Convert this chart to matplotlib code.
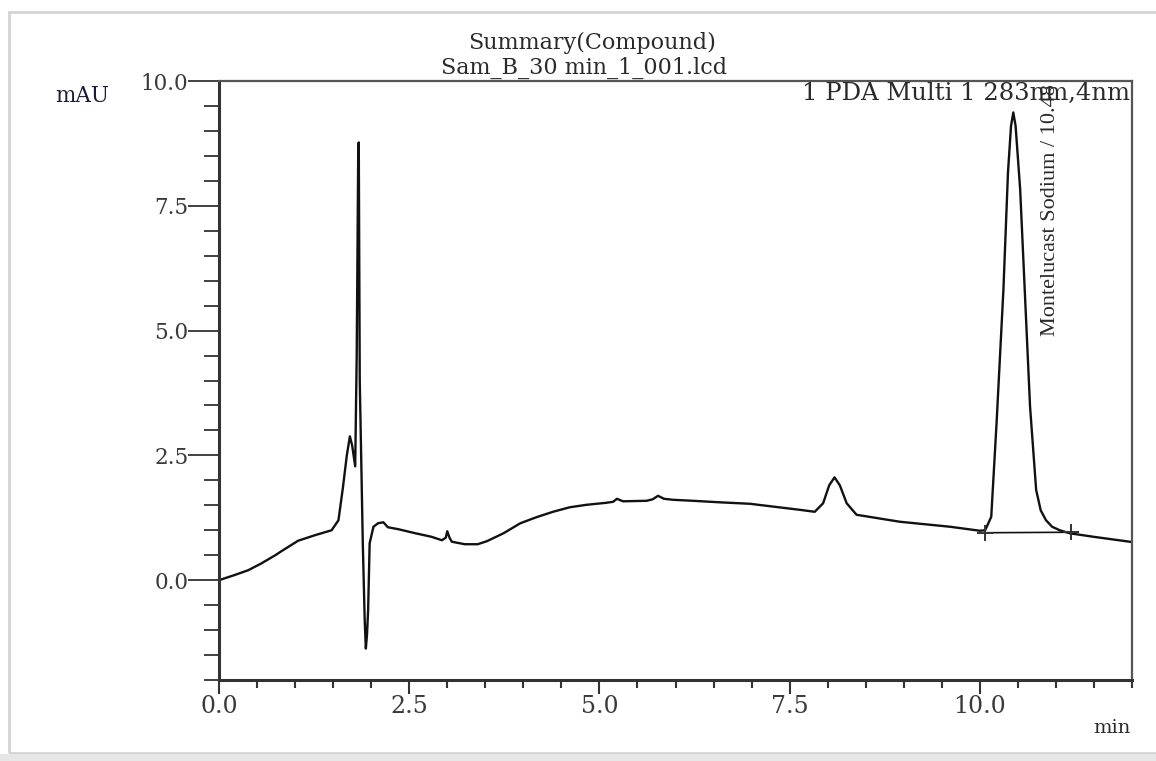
import matplotlib
matplotlib.use("Agg")
import matplotlib.pyplot as plt
from matplotlib.ticker import MultipleLocator, FormatStrFormatter
from matplotlib.patches import Rectangle

# ---- data ----
time_min = [0.0, 0.2, 0.385, 0.55, 0.74, 0.82, 1.04, 1.26, 1.48, 1.57, 1.63, 1.68,
            1.72, 1.75, 1.79, 1.81, 1.83, 1.837, 1.85, 1.89, 1.915, 1.93, 1.945,
            1.96, 1.98, 2.03, 2.09, 2.16, 2.22, 2.36, 2.58, 2.79, 2.93, 2.98,
            3.0, 3.03, 3.06, 3.23, 3.4, 3.52, 3.74, 3.96, 4.17, 4.39, 4.61, 4.83,
            5.09, 5.18, 5.23, 5.31, 5.62, 5.7, 5.77, 5.85, 5.97, 6.23, 6.58, 6.98,
            7.63, 7.83, 7.94, 8.02, 8.09, 8.16, 8.25, 8.38, 8.95, 9.61, 10.0,
            10.07, 10.15, 10.22, 10.31, 10.37, 10.41, 10.44, 10.47, 10.53, 10.59,
            10.66, 10.74, 10.8, 10.87, 10.95, 11.05, 11.18, 11.49, 11.97, 12.0]
absorbance = [0.0, 0.1, 0.2, 0.33, 0.5, 0.58, 0.79, 0.9, 1.0, 1.2, 1.87, 2.5,
              2.88, 2.7, 2.28, 4.5, 8.6, 8.77, 4.0, 0.74, -0.8, -1.37, -1.1,
              -0.6, 0.74, 1.07, 1.14, 1.16, 1.06, 1.02, 0.94, 0.87, 0.8, 0.85,
              0.98, 0.85, 0.77, 0.72, 0.72, 0.78, 0.94, 1.14, 1.26, 1.37, 1.46, 1.51,
              1.55, 1.57, 1.63, 1.58, 1.59, 1.62, 1.69, 1.63, 1.61, 1.59, 1.56, 1.53,
              1.41, 1.37, 1.54, 1.9, 2.06, 1.9, 1.54, 1.31, 1.17, 1.07, 0.99,
              1.0, 1.27, 3.15, 5.82, 8.17, 9.1, 9.37, 9.1, 7.83, 5.82,
              3.48, 1.81, 1.4, 1.2, 1.07, 1.0, 0.94, 0.87, 0.77, 0.76]

# integration markers of the Montelucast peak (start / end)
marker_time = [10.07, 11.2]
marker_abs = [0.95, 0.96]

peak_label = "Montelucast Sodium / 10.48"
peak_label_time = 10.93
peak_label_abs = 4.9
x_ticks = [0.0, 2.5, 5.0, 7.5, 10.0]
y_ticks = [0.0, 2.5, 5.0, 7.5, 10.0]

serif = ["DejaVu Serif"]
dark = "#2a2a2a"

fig = plt.figure(figsize=(11.56, 7.61), dpi=100)
fig.patch.set_facecolor("white")

# screenshot frame
fig.patches.append(Rectangle((9 / 1156, 8 / 761), 1.2, 1 - 20 / 761,
                             transform=fig.transFigure, fill=False,
                             edgecolor="#d4d4d4", lw=2.0, zorder=0))
fig.patches.append(Rectangle((0, 0), 1, 7 / 761, transform=fig.transFigure,
                             facecolor="#e6e6e6", edgecolor="none", zorder=0))

ax = fig.add_axes([219 / 1156, 1 - 680 / 761, 913 / 1156, 599 / 761])

ax.plot(time_min, absorbance, color="#111111", lw=1.7, solid_joinstyle="round")
ax.plot(marker_time, marker_abs, color="#111111", lw=1.2)
ax.plot(marker_time, marker_abs, linestyle="none", marker="+", ms=11,
        mew=1.4, color="#333333")

ax.set_xlim(0, 12.0)
ax.set_ylim(-2.0, 10.0)

ax.set_xticks(x_ticks)
ax.set_yticks(y_ticks)
ax.xaxis.set_minor_locator(MultipleLocator(0.5))
ax.yaxis.set_minor_locator(MultipleLocator(0.5))
ax.xaxis.set_major_formatter(FormatStrFormatter("%.1f"))
ax.yaxis.set_major_formatter(FormatStrFormatter("%.1f"))

ax.tick_params(axis="y", which="major", direction="out", length=22, width=1.3,
               color="#333333", pad=0, labelsize=15.5, labelcolor="#3a3a3a")
ax.tick_params(axis="y", which="minor", direction="out", length=11, width=1.3,
               color="#333333")
ax.tick_params(axis="x", which="major", direction="out", length=10, width=1.5,
               color="#333333", pad=1, labelsize=17, labelcolor="#3a3a3a")
ax.tick_params(axis="x", which="minor", direction="out", length=6, width=1.5,
               color="#333333")
for lab in ax.get_xticklabels() + ax.get_yticklabels():
    lab.set_family(serif)

for side in ["left", "bottom"]:
    ax.spines[side].set_linewidth(2.2)
    ax.spines[side].set_color("#333333")
for side in ["top", "right"]:
    ax.spines[side].set_linewidth(1.6)
    ax.spines[side].set_color("#555555")

# titles
fig.text(592 / 1156, 1 - 43 / 761, "Summary(Compound)", ha="center", va="center",
         fontsize=16, family=serif, color=dark)
fig.text(584 / 1156, 1 - 68 / 761, "Sam_B_30 min_1_001.lcd", ha="center", va="center",
         fontsize=16, family=serif, color=dark)

fig.text(55 / 1156, 1 - 96 / 761, "mAU", ha="left", va="center",
         fontsize=15.5, family=serif, color="#1a1a3a")
fig.text(1131 / 1156, 1 - 728 / 761, "min", ha="right", va="center",
         fontsize=14, family=serif, color=dark)

ax.text(0.998, 1 - 12 / 599, "1 PDA Multi 1 283nm,4nm", transform=ax.transAxes,
        ha="right", va="center", fontsize=17.5, family=serif, color=dark)

ax.text(peak_label_time, peak_label_abs, peak_label, rotation=90, ha="left",
        va="center", rotation_mode="anchor", fontsize=16,
        family=["Liberation Serif"], color=dark)

fig.savefig("out.png", dpi=100, facecolor="white")
